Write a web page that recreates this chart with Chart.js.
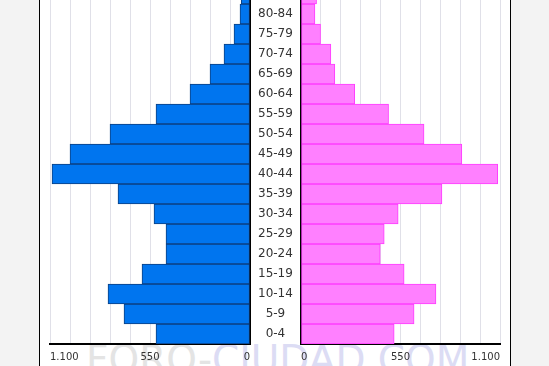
<!DOCTYPE html>
<html lang="es">
  <head>
    <meta charset="utf-8" />
    <title>Pirámide de población</title>
    <script src="https://cdn.jsdelivr.net/npm/chart.js@4.4.1/dist/chart.umd.min.js"></script>
    <style>
      html, body { margin: 0; padding: 0; }
      body {
        width: 549px; height: 366px; overflow: hidden; position: relative;
        background: #f3f3f3; font-family: "DejaVu Sans", sans-serif;
      }
      #panel {
        position: absolute; left: 39px; top: 0; width: 470px; height: 366px;
        background: #fff; border-left: 1px solid #000; border-right: 1px solid #000;
      }
      #marca {
        position: absolute; left: 86px; top: 340px; font-size: 39px; line-height: 39px;
        white-space: nowrap; color: #e4e4e4;
      }
      #marca span { color: #dcdcf4; }
      canvas { position: absolute; top: -20px; }
      #chartHombres { left: 40px; }
      #chartMujeres { left: 300px; }
    </style>
  </head>
  <body>
    <div id="panel"></div>
    <div id="marca">FORO-<span>CIUDAD.COM</span></div>
    <canvas id="chartHombres" width="260" height="386"></canvas>
    <canvas id="chartMujeres" width="210" height="386"></canvas>

<script>
let grupos = ['0-4', '5-9', '10-14', '15-19', '20-24', '25-29', '30-34', '35-39', '40-44',
              '45-49', '50-54', '55-59', '60-64', '65-69', '70-74', '75-79', '80-84', '85+']
let hombres = [517, 693, 781, 594, 462, 462, 528, 726, 1089, 990, 770, 517, 330, 220, 143, 88, 55, 48]
let mujeres = [515, 625, 746, 570, 438, 460, 537, 779, 1087, 889, 680, 484, 297, 187, 165, 108, 77, 86]
let maximo = 1100

function formato(v) {
  v = Math.abs(Math.round(v))
  if (v % 550 !== 0) return ''
  return String(v).replace(/\B(?=(\d{3})+(?!\d))/g, '.')
}

// sin relleno extra por las etiquetas, para que el area quede fija
function sinRelleno(scale) {
  scale.paddingLeft = 0
  scale.paddingRight = 0
  scale.paddingTop = 0
  scale.paddingBottom = 0
}

function ejeX(min, max) {
  return {
    min: min,
    max: max,
    grid: { color: '#e0e0e8', lineWidth: 1, drawTicks: false },
    border: { display: true, color: '#000', width: 2 },
    ticks: {
      stepSize: 110, autoSkip: false, maxRotation: 0, align: 'inner', padding: 7,
      color: '#333', font: { family: 'DejaVu Sans', size: 10 }, callback: formato
    },
    afterFit: function (scale) { scale.height = 22; sinRelleno(scale) }
  }
}

window.onload = function () {
  Chart.defaults.animation = false
  Chart.defaults.devicePixelRatio = 1

  let configHombres = {
    type: 'bar',
    data: {
      labels: grupos,
      datasets: [{
        label: 'Hombres',
        data: hombres.map(function (v) { return -v }),
        backgroundColor: '#0075ef',
        borderColor: '#0d3f80',
        borderWidth: 1,
        borderSkipped: false,
        barPercentage: 1,
        categoryPercentage: 1
      }]
    },
    options: {
      indexAxis: 'y',
      responsive: false,
      layout: { padding: { left: 10, top: 4, right: 0, bottom: 0 } },
      plugins: { legend: { display: false }, tooltip: { enabled: false } },
      scales: {
        x: ejeX(-maximo, 0),
        y: {
          position: 'right',
          reverse: true,
          grid: { display: false, drawTicks: false },
          border: { display: true, color: '#000', width: 2 },
          ticks: { crossAlign: 'center', padding: 8, color: '#333', font: { family: 'DejaVu Sans', size: 12 } },
          afterFit: function (scale) { scale.width = 50; sinRelleno(scale) }
        }
      }
    }
  }

  let configMujeres = {
    type: 'bar',
    data: {
      labels: grupos,
      datasets: [{
        label: 'Mujeres',
        data: mujeres,
        backgroundColor: '#ff80ff',
        borderColor: '#ff3cff',
        borderWidth: 1,
        borderSkipped: false,
        barPercentage: 1,
        categoryPercentage: 1
      }]
    },
    options: {
      indexAxis: 'y',
      responsive: false,
      layout: { padding: { left: 1, top: 4, right: 10, bottom: 0 } },
      plugins: { legend: { display: false }, tooltip: { enabled: false } },
      scales: {
        x: ejeX(0, maximo),
        y: {
          position: 'left',
          reverse: true,
          grid: { display: false, drawTicks: false },
          border: { display: true, color: '#000', width: 2 },
          ticks: { display: false },
          afterFit: function (scale) { scale.width = 0; sinRelleno(scale) }
        }
      }
    }
  }

  new Chart(document.getElementById('chartHombres'), configHombres)
  new Chart(document.getElementById('chartMujeres'), configMujeres)
}
</script>
  </body>
</html>
